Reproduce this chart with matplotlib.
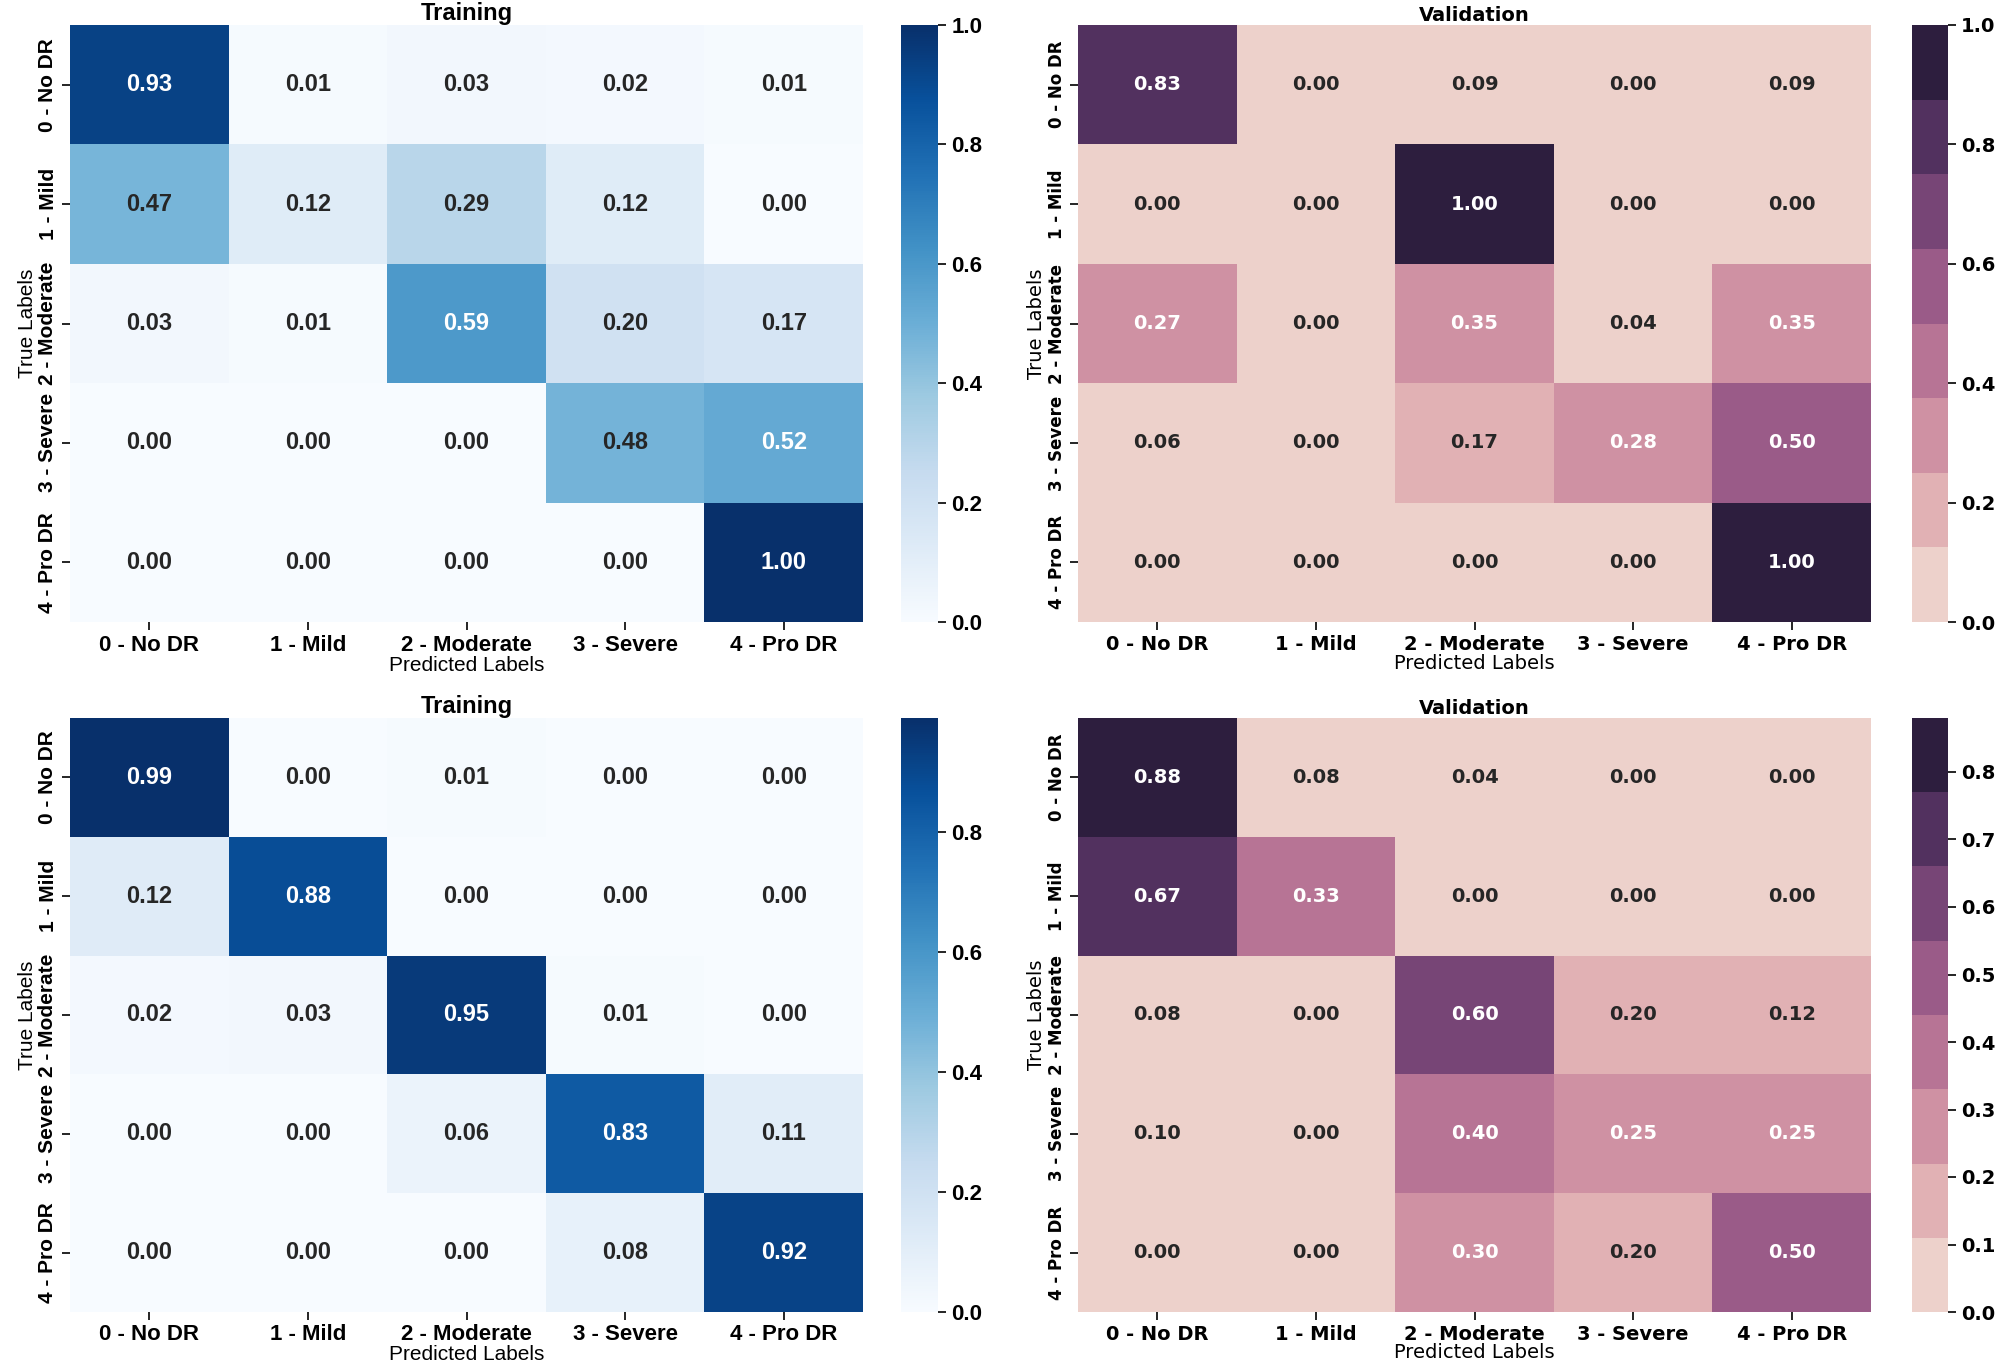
import numpy as np
import matplotlib.pyplot as plt
import seaborn as sns
from matplotlib.colors import ListedColormap

labels = ["0 - No DR", "1 - Mild", "2 - Moderate", "3 - Severe", "4 - Pro DR"]

train_1 = [[0.93, 0.01, 0.03, 0.02, 0.01],
           [0.47, 0.12, 0.29, 0.12, 0.00],
           [0.03, 0.01, 0.59, 0.20, 0.17],
           [0.00, 0.00, 0.00, 0.48, 0.52],
           [0.00, 0.00, 0.00, 0.00, 1.00]]
val_1 = [[0.83, 0.00, 0.09, 0.00, 0.09],
         [0.00, 0.00, 1.00, 0.00, 0.00],
         [0.27, 0.00, 0.35, 0.04, 0.35],
         [0.06, 0.00, 0.17, 0.28, 0.50],
         [0.00, 0.00, 0.00, 0.00, 1.00]]
train_2 = [[0.99, 0.00, 0.01, 0.00, 0.00],
           [0.12, 0.88, 0.00, 0.00, 0.00],
           [0.02, 0.03, 0.95, 0.01, 0.00],
           [0.00, 0.00, 0.06, 0.83, 0.11],
           [0.00, 0.00, 0.00, 0.08, 0.92]]
val_2 = [[0.88, 0.08, 0.04, 0.00, 0.00],
         [0.67, 0.33, 0.00, 0.00, 0.00],
         [0.08, 0.00, 0.60, 0.20, 0.12],
         [0.10, 0.00, 0.40, 0.25, 0.25],
         [0.00, 0.00, 0.30, 0.20, 0.50]]

narrow = ['Liberation Sans', 'DejaVu Sans']
wide = ['DejaVu Sans']

W, H = 1996, 1368
fig = plt.figure(figsize=(W / 100, H / 100), dpi=100)


def px(x0, y0, x1, y1):
    return [x0 / W, 1 - y1 / H, (x1 - x0) / W, (y1 - y0) / H]


def panel(data, rect, crect, cmap, vmax, fam, title, ticks, sz):
    ax = fig.add_axes(px(*rect))
    cax = fig.add_axes(px(*crect))
    sns.heatmap(np.array(data), annot=True, fmt='.2f', cmap=cmap, vmin=0, vmax=vmax,
                ax=ax, cbar_ax=cax, xticklabels=labels, yticklabels=labels,
                annot_kws={'fontsize': sz['ann'], 'fontweight': 'bold', 'family': fam})
    ax.set_title(title, fontsize=sz['title'], fontweight='bold', family=fam, pad=3)
    ax.set_xlabel("Predicted Labels", fontsize=sz['lab'], family=fam, labelpad=0)
    ax.set_ylabel("True Labels", fontsize=sz['lab'], family=fam, labelpad=1)
    for t in ax.get_xticklabels():
        t.set_fontsize(sz['tick']); t.set_fontweight('bold'); t.set_family(fam); t.set_rotation(0)
    for t in ax.get_yticklabels():
        t.set_fontsize(sz['ytick']); t.set_fontweight('bold'); t.set_family(fam)
        t.set_rotation(90); t.set_va('center')
    ax.tick_params(length=6, width=1.2, pad=3)
    cax.set_yticks(ticks)
    cax.set_yticklabels([f"{v:.1f}" for v in ticks], fontsize=sz['tick'],
                        fontweight='bold', family=fam)
    cax.tick_params(length=6, width=1.2)
    return ax


left_sz = {'ann': 17, 'tick': 16, 'ytick': 15, 'lab': 15, 'title': 17}
right_sz = {'ann': 14, 'tick': 14, 'ytick': 12, 'lab': 14, 'title': 14}
cube = ListedColormap(sns.cubehelix_palette(8))

panel(train_1, (70, 25, 863, 622), (901, 25, 938, 622), 'Blues', 1.0, narrow, "Training",
      np.arange(0, 1.01, 0.2), left_sz)
panel(val_1, (1078, 25, 1871, 622), (1912, 25, 1948, 622), cube, 1.0, wide, "Validation",
      np.arange(0, 1.01, 0.2), right_sz)
panel(train_2, (70, 718, 863, 1312), (901, 718, 938, 1312), 'Blues', 0.99, narrow, "Training",
      np.arange(0, 0.81, 0.2), left_sz)
panel(val_2, (1078, 718, 1871, 1312), (1912, 718, 1948, 1312), cube, 0.88, wide, "Validation",
      np.arange(0, 0.81, 0.1), right_sz)

plt.savefig('out.png', dpi=100)
